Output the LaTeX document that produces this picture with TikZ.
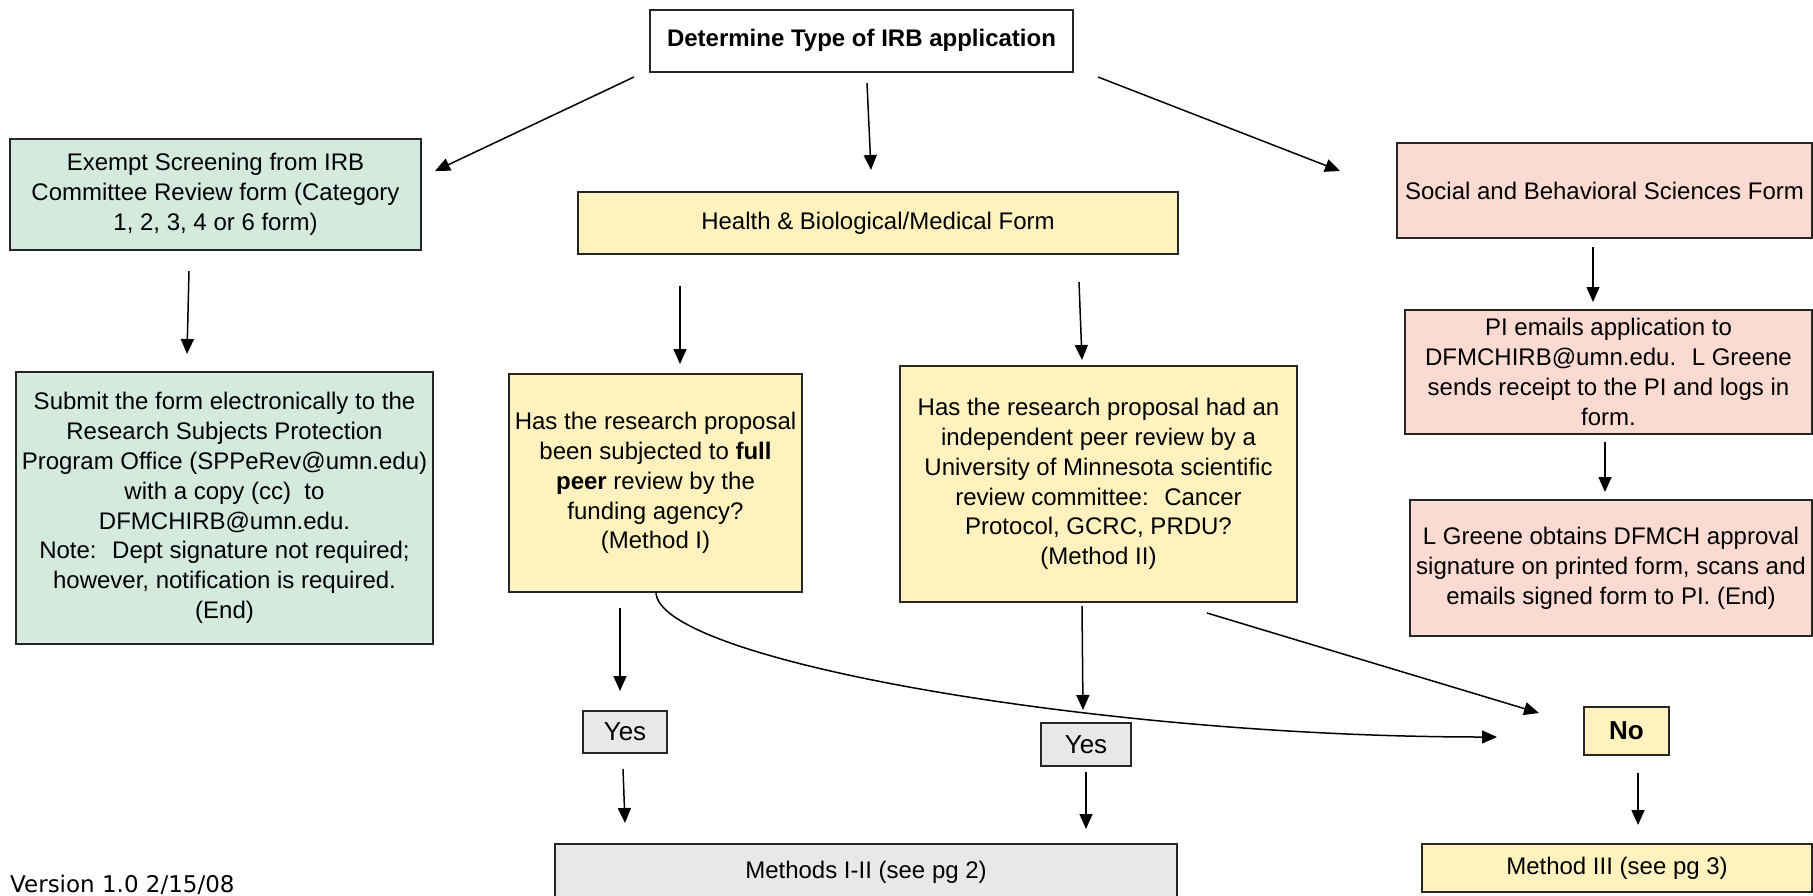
\documentclass[tikz,border=0pt]{standalone}
\usepackage{fontspec}
\setmainfont{Liberation Sans}
\newfontfamily\verfont{DejaVu Sans}
\usetikzlibrary{arrows.meta}
\definecolor{cgreen}{HTML}{D4EADF}
\definecolor{cyellow}{HTML}{FFF2BF}
\definecolor{cpink}{HTML}{FBDAD2}
\definecolor{cgrey}{HTML}{E8E8E8}
\tikzset{
  boxbase/.style={draw=black!85, line width=2pt, inner sep=0pt, align=center,
    font=\fontsize{24}{29.8}\selectfont},
  greenbox/.style={boxbase, fill=cgreen},
  yellowbox/.style={boxbase, fill=cyellow},
  pinkbox/.style={boxbase, fill=cpink},
  greybox/.style={boxbase, fill=cgrey},
  whitebox/.style={boxbase, fill=white},
  bigword/.style={font=\fontsize{26}{30}\selectfont},
  arr/.style={line width=1.5pt, -{Triangle[length=15pt,width=13pt]}},
}
\begin{document}
\begin{tikzpicture}[x=1pt,y=-1pt]
\useasboundingbox (0,0) rectangle (1813,895);
% boxes
\node[whitebox, minimum width=423pt, minimum height=62pt] (top) at (861.5,40.5) {\textbf{Determine Type of IRB application}};
\node[greenbox, minimum width=411pt, minimum height=111pt] (exempt) at (215.5,194.5) {Exempt Screening from IRB\\Committee Review form (Category\\1, 2, 3, 4 or 6 form)};
\node[yellowbox, minimum width=600pt, minimum height=62pt] (health) at (878,223) {Health \& Biological/Medical Form};
\node[pinkbox, minimum width=415pt, minimum height=95pt] (social) at (1604.5,190.5) {Social and Behavioral Sciences Form};
\node[greenbox, minimum width=417pt, minimum height=272pt] (submit) at (224.5,508) {Submit the form electronically to the\\Research Subjects Protection\\Program Office (SPPeRev@umn.edu)\\with a copy (cc)~ to\\DFMCHIRB@umn.edu.\\Note:~ Dept signature not required;\\however, notification is required.\\(End)};
\node[yellowbox, minimum width=293pt, minimum height=218pt] (q1) at (655.5,483) {Has the research proposal\\been subjected to \textbf{full}\\\textbf{peer} review by the\\funding agency?\\(Method I)};
\node[yellowbox, minimum width=397pt, minimum height=236pt] (q2) at (1098.5,484) {Has the research proposal had an\\independent peer review by a\\University of Minnesota scientific\\review committee:~ Cancer\\Protocol, GCRC, PRDU?\\(Method II)};
\node[pinkbox, minimum width=407pt, minimum height=124pt] (pi) at (1608.5,372) {PI emails application to\\DFMCHIRB@umn.edu.~ L Greene\\sends receipt to the PI and logs in\\form.};
\node[pinkbox, minimum width=402pt, minimum height=136pt] (lg) at (1611,568) {L Greene obtains DFMCH approval\\signature on printed form, scans and\\emails signed form to PI. (End)};
\node[greybox, bigword, minimum width=84pt, minimum height=42pt] (yes1) at (625,732) {Yes};
\node[greybox, bigword, minimum width=90pt, minimum height=43pt] (yes2) at (1086,744.5) {Yes};
\node[yellowbox, bigword, minimum width=85pt, minimum height=48pt] (no) at (1626.5,731) {\textbf{No}};
\node[greybox, minimum width=622pt, minimum height=56pt] (methods) at (866,872) {Methods I-II (see pg 2)};
\node[yellowbox, minimum width=390pt, minimum height=48pt] (method3) at (1617,868) {Method III (see pg 3)};
\node[anchor=base west, inner sep=0pt, font=\verfont\fontsize{23}{28}\selectfont] (version) at (10,892) {Version 1.0 2/15/08};
% connector end points
\coordinate (a1s) at (634,77);   \coordinate (a1e) at (435,171);
\coordinate (a2s) at (867,83);   \coordinate (a2e) at (871,170);
\coordinate (a3s) at (1098,77);  \coordinate (a3e) at (1340,171);
\coordinate (a4s) at (189,271);  \coordinate (a4e) at (187,354);
\coordinate (a5s) at (680,286);  \coordinate (a5e) at (680,364);
\coordinate (a6s) at (1079,282); \coordinate (a6e) at (1082,360);
\coordinate (a7s) at (1593,247); \coordinate (a7e) at (1593,302);
\coordinate (a8s) at (1605,442); \coordinate (a8e) at (1605,492);
\coordinate (a9s) at (620,608);  \coordinate (a9e) at (620,691);
\coordinate (a10s) at (623,769); \coordinate (a10e) at (625,823);
\coordinate (a11s) at (1082,606); \coordinate (a11e) at (1083,710);
\coordinate (a12s) at (1086,772); \coordinate (a12e) at (1086,829);
\coordinate (a13s) at (1207,613); \coordinate (a13e) at (1539,713);
\coordinate (a14s) at (656,592); \coordinate (a14e) at (1497,737);
\coordinate (a15s) at (1638,773); \coordinate (a15e) at (1638,825);
% connectors
\draw[arr] (a1s) -- (a1e);
\draw[arr] (a2s) -- (a2e);
\draw[arr] (a3s) -- (a3e);
\draw[arr] (a4s) -- (a4e);
\draw[arr] (a5s) -- (a5e);
\draw[arr] (a6s) -- (a6e);
\draw[arr] (a7s) -- (a7e);
\draw[arr] (a8s) -- (a8e);
\draw[arr] (a9s) -- (a9e);
\draw[arr] (a10s) -- (a10e);
\draw[arr] (a11s) -- (a11e);
\draw[arr] (a12s) -- (a12e);
\draw[arr] (a13s) -- (a13e);
\draw[arr] (a14s) .. controls (656,660) and (1100,737) .. (a14e);
\draw[arr] (a15s) -- (a15e);
\end{tikzpicture}
\end{document}
